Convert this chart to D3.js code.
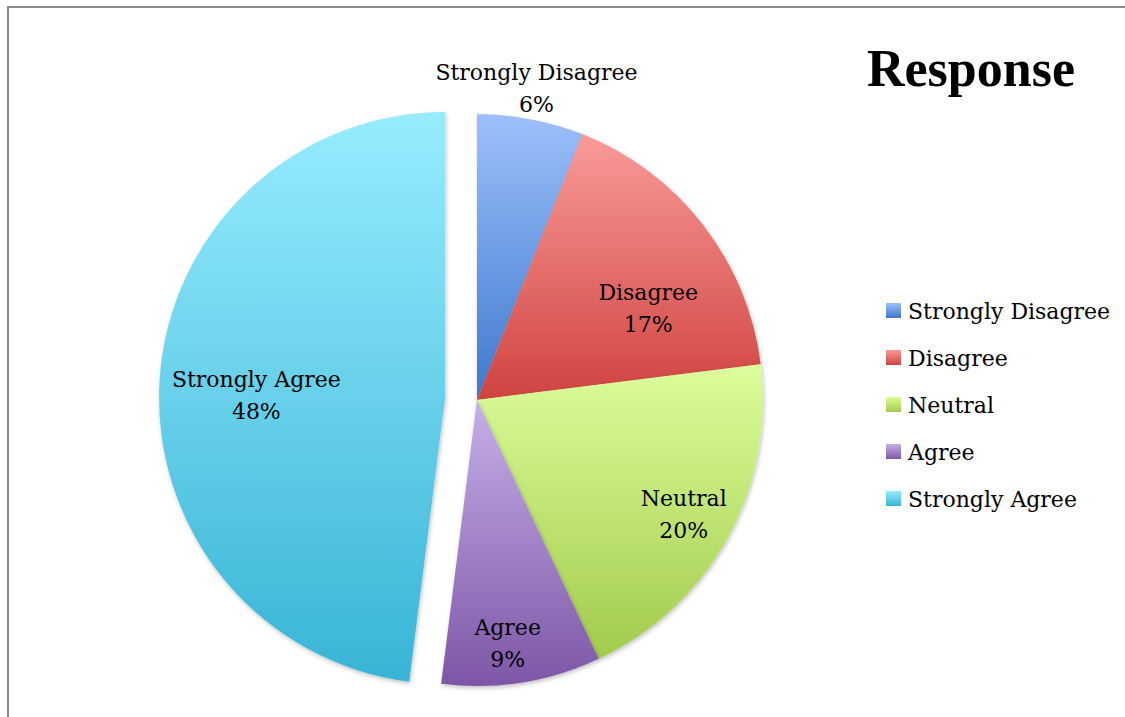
<!DOCTYPE html>
<html>
<head>
<meta charset="utf-8">
<script src="https://cdn.jsdelivr.net/npm/d3@7"></script>
<style>
  body { margin: 0; background: #fff; }
  svg { display: block; }
</style>
</head>
<body>
<svg id="chart" width="1125" height="717"></svg>
<script>
// data
const categories = ["Strongly Disagree", "Disagree", "Neutral", "Agree", "Strongly Agree"];
const values = [6, 17, 20, 9, 48];
const title = "Response";

// gradient colours, top -> bottom
const topColors = ["#9cc0fc", "#f99b98", "#dcfd9c", "#c6b0e8", "#97ecfe"];
const bottomColors = ["#4078cc", "#cf4340", "#a3cb4c", "#7d56a6", "#38b4d6"];

// label layout (radius factor, angle nudge in degrees)
const labelR = [1.11, 0.68, 0.825, 0.855, 0.66];
const labelNudge = [0, 9.5, 0, 1.8, -2.6];
const explode = [0, 0, 0, 0, 32];

const svg = d3.select("#chart");
const cx = 477, cy = 400, radius = 286;
const labelFont = "'DejaVu Serif', serif";

const defs = svg.append("defs");
categories.forEach(function (c, i) {
  const g = defs.append("linearGradient")
    .attr("id", "grad" + i)
    .attr("x1", 0).attr("y1", 0).attr("x2", 0).attr("y2", 1);
  g.append("stop").attr("offset", "0%").attr("stop-color", topColors[i]);
  g.append("stop").attr("offset", "100%").attr("stop-color", bottomColors[i]);
});
defs.append("filter").attr("id", "shadow")
  .attr("x", "-10%").attr("y", "-10%").attr("width", "120%").attr("height", "120%")
  .append("feDropShadow")
  .attr("dx", 1).attr("dy", 2).attr("stdDeviation", 2)
  .attr("flood-color", "#000").attr("flood-opacity", 0.25);

// frame
svg.append("path")
  .attr("d", "M8,717 L8,7 L1125,7")
  .attr("fill", "none")
  .attr("stroke", "#8a8a8a")
  .attr("stroke-width", 2);

const pie = d3.pie().sort(null).value(function (d) { return d; });
const arcs = pie(values);
const arc = d3.arc().innerRadius(0).outerRadius(radius);

function offset(d, i) {
  const mid = (d.startAngle + d.endAngle) / 2;
  return [Math.sin(mid) * explode[i], -Math.cos(mid) * explode[i]];
}

const g = svg.append("g").attr("transform", "translate(" + cx + "," + cy + ")");

g.selectAll("path.slice")
  .data(arcs)
  .enter()
  .append("path")
  .attr("class", "slice")
  .attr("d", arc)
  .attr("fill", function (d, i) { return "url(#grad" + i + ")"; })
  .attr("filter", "url(#shadow)")
  .attr("transform", function (d, i) {
    const o = offset(d, i);
    return "translate(" + o[0] + "," + o[1] + ")";
  });

// data labels
const labels = g.selectAll("text.lbl")
  .data(arcs)
  .enter()
  .append("text")
  .attr("class", "lbl")
  .attr("font-family", labelFont)
  .attr("font-size", 22)
  .attr("fill", "#000")
  .attr("text-anchor", "middle")
  .attr("transform", function (d, i) {
    const o = offset(d, i);
    const a = (d.startAngle + d.endAngle) / 2 + labelNudge[i] * Math.PI / 180;
    const r = radius * labelR[i];
    return "translate(" + (o[0] + Math.sin(a) * r) + "," + (o[1] - Math.cos(a) * r) + ")";
  });
labels.append("tspan").attr("x", 0).attr("y", -8)
  .text(function (d, i) { return categories[i]; });
labels.append("tspan").attr("x", 0).attr("y", 24)
  .text(function (d) { return d.value + "%"; });

// title
svg.append("text")
  .attr("x", 971)
  .attr("y", 86)
  .attr("text-anchor", "middle")
  .attr("font-family", "'Liberation Serif', serif")
  .attr("font-weight", "bold")
  .attr("font-size", 52)
  .text(title);

// legend
const legend = svg.append("g").attr("transform", "translate(886,303)");
const rows = legend.selectAll("g")
  .data(categories)
  .enter()
  .append("g")
  .attr("transform", function (d, i) { return "translate(0," + i * 47 + ")"; });
rows.append("rect")
  .attr("width", 15).attr("height", 15)
  .attr("fill", function (d, i) { return "url(#grad" + i + ")"; });
rows.append("text")
  .attr("x", 22)
  .attr("y", 16)
  .attr("font-family", labelFont)
  .attr("font-size", 22)
  .text(function (d) { return d; });
</script>
</body>
</html>
